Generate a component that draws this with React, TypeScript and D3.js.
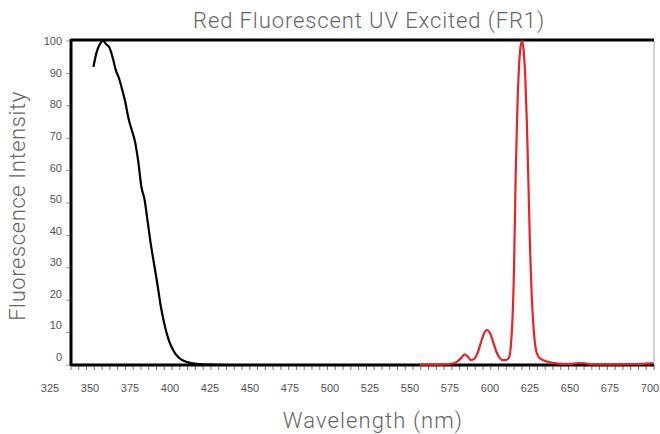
import React from 'react';
import * as d3 from 'd3';

// absorption / excitation (black)
const exWavelength = [352, 354, 356, 358, 360, 362, 364, 366, 368, 370, 372, 374, 376, 378, 380, 382, 384, 386, 388, 390, 392, 394, 396, 398, 400, 402, 404, 406, 408, 410, 414, 418, 422, 426, 430, 440];
const exIntensity = [92, 96.5, 99, 100, 99, 98, 95, 91, 88.5, 85, 81, 76, 72.5, 69, 63, 55, 51, 44, 37, 31, 25, 18.5, 13.5, 9.5, 6.5, 4.5, 3, 2, 1.4, 1, 0.5, 0.3, 0.15, 0.1, 0.05, 0];

// emission (red)
const emWavelength = [556, 565, 572, 576, 579, 582, 584, 586, 588, 590, 592, 594, 596, 598, 600, 602, 604, 606, 608, 610, 612, 613, 614, 615, 616, 617, 618, 619, 620, 621, 622, 623, 624, 625, 626, 627, 628, 629, 630, 632, 636, 640, 645, 650, 655, 658, 662, 670, 680, 690, 700, 702];
const emIntensity = [0.1, 0.1, 0.2, 0.4, 0.9, 2.2, 3.3, 2.6, 1.5, 1.8, 3.5, 6.5, 9.5, 10.8, 9.8, 7, 4, 2.2, 1.5, 1.5, 2.5, 6, 14, 30, 58, 78, 91, 98, 100, 97, 89, 75, 56, 36, 22, 13, 7, 4, 2.8, 1.8, 1, 0.6, 0.35, 0.3, 0.6, 0.6, 0.3, 0.2, 0.2, 0.25, 0.5, 0.6];

const xTickLabels = [325, 350, 375, 400, 425, 450, 475, 500, 525, 550, 575, 600, 625, 650, 675, 700];
const yTickLabels = [0, 10, 20, 30, 40, 50, 60, 70, 80, 90, 100];

const W = 660;
const H = 434;
const left = 71;
const right = 654;
const top = 41;
const bottom = 365;

const titleFont = "Roboto, 'Helvetica Neue', Arial, sans-serif";
const tickFont = "'Liberation Sans', Arial, sans-serif";

export default function App() {
  const x = d3.scaleLinear().domain([338, 702.5]).range([left, right]);
  const y = d3.scaleLinear().domain([0, 100]).range([bottom, top]);

  const line = d3
    .line<[number, number]>()
    .x((d) => x(d[0]))
    .y((d) => y(d[1]))
    .curve(d3.curveMonotoneX);

  const exPts = exWavelength.map((w, i) => [w, exIntensity[i]] as [number, number]);
  const emPts = emWavelength.map((w, i) => [w, emIntensity[i]] as [number, number]);

  // minor ticks along the x axis
  const nMinor = 75;
  const minorTicks = d3.range(nMinor + 1).map((i) => 338 + (i * (702.5 - 338)) / nMinor);

  // tick labels sit on grids offset from the data (as in the original)
  const labelX = d3.scaleLinear().domain([325, 700]).range([50, 650]);
  const labelY = d3.scaleLinear().domain([0, 100]).range([357, 41.5]);

  return (
    <svg width={W} height={H} style={{ position: 'absolute', left: 0, top: 0, background: '#fff' }}>
      <text x={369} y={28} textAnchor="middle" fontFamily={titleFont} fontWeight={300} fontSize={22} letterSpacing={0.9} fill="#666">
        Red Fluorescent UV Excited (FR1)
      </text>

      {/* y ticks */}
      {yTickLabels.map((t) => (
        <g key={t}>
          <line x1={left - 5} x2={left} y1={y(t)} y2={y(t)} stroke="#999" strokeWidth={1} />
          <text x={62} y={labelY(t)} dy="0.35em" textAnchor="end" fontFamily={tickFont} fontSize={11} fill="#555">
            {t}
          </text>
        </g>
      ))}

      {/* x ticks */}
      {minorTicks.map((t, i) => (
        <line key={i} x1={x(t)} x2={x(t)} y1={bottom} y2={bottom + 5} stroke="#777" strokeWidth={1} />
      ))}
      {xTickLabels.map((t) => (
        <text key={t} x={labelX(t)} y={392} textAnchor="middle" fontFamily={tickFont} fontSize={11} fill="#555">
          {t}
        </text>
      ))}

      {/* frame */}
      <line x1={right} x2={right} y1={top} y2={bottom} stroke="#aaa" strokeWidth={1} />
      <line x1={left} x2={right} y1={top - 1} y2={top - 1} stroke="#000" strokeWidth={3} />
      <line x1={left} x2={right} y1={bottom} y2={bottom} stroke="#000" strokeWidth={3} />
      <line x1={left} x2={left} y1={top - 2} y2={bottom + 1} stroke="#000" strokeWidth={3} />

      <path d={line(exPts) ?? ''} fill="none" stroke="#000" strokeWidth={2.2} />
      <path d={line(emPts) ?? ''} fill="none" stroke="#ec2127" strokeWidth={2.2} />

      <text
        transform={`translate(25,206) rotate(-90)`}
        textAnchor="middle"
        fontFamily={titleFont}
        fontWeight={300}
        fontSize={22}
        letterSpacing={0.6}
        fill="#666"
      >
        Fluorescence Intensity
      </text>
      <text x={373} y={428} textAnchor="middle" fontFamily={titleFont} fontWeight={300} fontSize={22} letterSpacing={1.1} fill="#666">
        Wavelength (nm)
      </text>
    </svg>
  );
}
